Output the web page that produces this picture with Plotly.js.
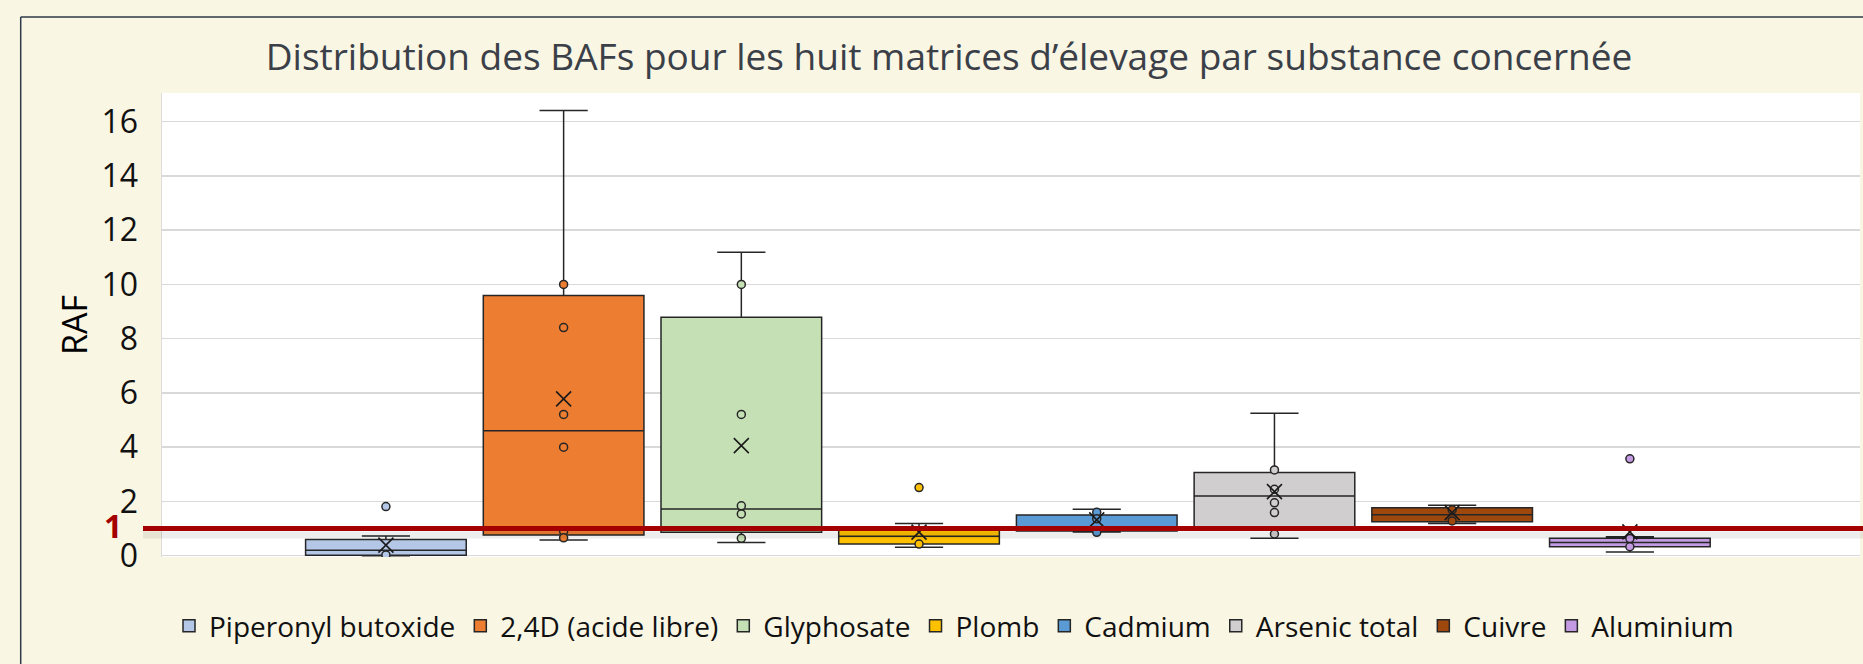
<!DOCTYPE html>
<html><head><meta charset="utf-8">
<script src="https://cdn.plot.ly/plotly-3.0.1.min.js"></script>
<style>html,body{margin:0;padding:0;background:#F9F6E4;overflow:hidden}#chart{width:1863px;height:664px}</style>
</head><body><div id="chart"></div>
<script>
// Categories (one box per substance)
const substances = ['Piperonyl butoxide','2,4D (acide libre)','Glyphosate','Plomb','Cadmium','Arsenic total','Cuivre','Aluminium'];
const colors = ['#B4C7E7','#ED7D31','#C5E0B4','#FFC000','#5B9BD5','#D0CECE','#9E480E','#C49BE3'];

// Box statistics (BAF values)
const q1         = [0.02, 0.76, 0.86, 0.43, 0.91, 1.01, 1.25, 0.33];
const median     = [0.20, 4.61, 1.72, 0.72, 0.95, 2.20, 1.51, 0.49];
const q3         = [0.60, 9.59, 8.79, 1.06, 1.50, 3.07, 1.77, 0.64];
const lowerfence = [0.00, 0.58, 0.49, 0.31, 0.87, 0.64, 1.19, 0.14];
const upperfence = [0.73, 16.41, 11.19, 1.19, 1.71, 5.25, 1.86, 0.70];
const mean       = [0.39, 5.78, 4.06, 0.87, 1.32, 2.36, 1.59, 0.88];

// Individual points (inner points and outliers)
const ptsPiperonyl = [1.81, 0.03];
const pts24D       = [10.0, 8.41, 5.21, 4.0, 0.90, 0.66];
const ptsGlyphosate= [10.0, 5.21, 1.84, 1.54, 0.64];
const ptsPlomb     = [2.51, 0.43];
const ptsCadmium   = [1.60, 1.36, 0.86];
const ptsArsenic   = [3.16, 2.45, 1.95, 1.59, 0.80];
const ptsCuivre    = [1.69, 1.28];
const ptsAluminium = [3.57, 0.63, 0.33];
const points = [ptsPiperonyl, pts24D, ptsGlyphosate, ptsPlomb, ptsCadmium, ptsArsenic, ptsCuivre, ptsAluminium];

const seuil = 1;
const yTickVals = [0,2,4,6,8,10,12,14,16];

const FONT = 'Open Sans, sans-serif';
const traces = [];
substances.forEach((s,i)=>{
  traces.push({type:'box', name:s, x:[s], q1:[q1[i]], median:[median[i]], q3:[q3[i]],
    lowerfence:[lowerfence[i]], upperfence:[upperfence[i]],
    fillcolor:colors[i], line:{color:'#262626', width:1.5}, width:0.904, whiskerwidth:0.3,
    boxpoints:false, hoverinfo:'skip'});
});
substances.forEach((s,i)=>{
  traces.push({type:'scatter', mode:'markers', x:points[i].map(()=>s), y:points[i], showlegend:false,
    marker:{symbol:'circle', size:8, color:colors[i], line:{color:'#262626', width:1.5}}, hoverinfo:'skip'});
  traces.push({type:'scatter', mode:'markers', x:[s], y:[mean[i]], showlegend:false,
    marker:{symbol:'x-thin-open', size:15, color:'#1a1a1a', line:{color:'#1a1a1a', width:1.6}}, hoverinfo:'skip'});
});

const L=162, R=3, T=93, B=107, W=1863, H=664;
const pw=W-L-R, ph=H-T-B;
const px = v => (v-L)/pw;
const py = v => (H-B-v)/ph;

const layout = {
  width:W, height:H,
  margin:{l:L, r:R, t:T, b:B, pad:0},
  paper_bgcolor:'#F9F6E4', plot_bgcolor:'#FFFFFF',
  font:{family:FONT, color:'#000'},
  showlegend:true,
  boxmode:'overlay',
  title:{text:'Distribution des BAFs pour les huit matrices d’élevage par substance concernée',
    font:{family:FONT, size:37, color:'#3B4048'}, x:949/W, xref:'container', xanchor:'center',
    y:1-57/H, yref:'container', yanchor:'middle'},
  xaxis:{type:'category', categoryorder:'array', categoryarray:substances, range:[-1.26, 8.295],
    showticklabels:false, showgrid:false, zeroline:false, showline:false, ticks:''},
  yaxis:{range:[-0.048, 17.058], tickvals:yTickVals, ticktext:yTickVals.map(String),
    tickfont:{family:FONT, size:32, color:'#111'}, ticks:'', ticklabelstandoff:16,
    showgrid:true, gridcolor:'#D9D9D9', gridwidth:1.5, zeroline:false,
    showline:true, linecolor:'#DADADA', linewidth:1.5},
  legend:{orientation:'h', x:px(954), xanchor:'center', y:py(626), yanchor:'middle',
    font:{family:FONT, size:28, color:'#111'}, bgcolor:'rgba(0,0,0,0)', itemwidth:30, tracegroupgap:0},
  annotations:[
    {text:'RAF', textangle:-90, xref:'paper', yref:'paper', x:px(74), y:py(325), xanchor:'center', yanchor:'middle',
     showarrow:false, font:{family:FONT, size:34, color:'#000'}},
    {text:'<b>1</b>', xref:'paper', yref:'y', x:px(124), y:seuil, xanchor:'right', yanchor:'middle', yshift:3,
     showarrow:false, font:{family:FONT, size:32, color:'#A50000'}}
  ],
  shapes:[
    {type:'line', xref:'paper', yref:'paper', x0:px(20.7), x1:1.01, y0:py(17), y1:py(17), line:{color:'#2E3A4A', width:1.5}},
    {type:'line', xref:'paper', yref:'paper', x0:px(20.7), x1:px(20.7), y0:py(17), y1:py(680), line:{color:'#2E3A4A', width:1.5}},
    {type:'rect', xref:'paper', yref:'y', x0:px(143), x1:1.01, ysizemode:'pixel', yanchor:seuil, y0:-10, y1:-3,
     fillcolor:'rgba(0,0,0,0.07)', line:{width:0}, layer:'above'},
    {type:'line', xref:'paper', yref:'y', x0:px(143), x1:1.01, y0:seuil, y1:seuil, line:{color:'#A50000', width:5}, layer:'above'}
  ]
};
Plotly.newPlot('chart', traces, layout, {staticPlot:true, displayModeBar:false});
</script></body></html>
